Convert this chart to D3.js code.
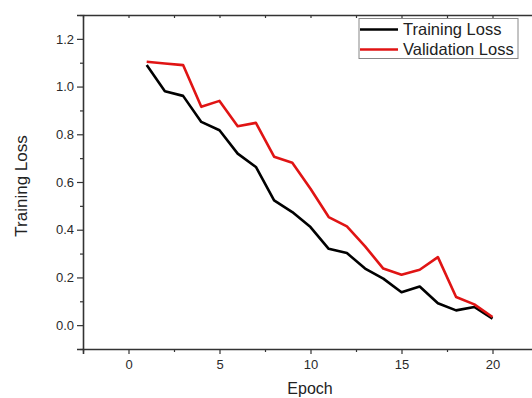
<!DOCTYPE html>
<html><head><meta charset="utf-8">
<script src="https://cdn.jsdelivr.net/npm/d3@7"></script>
<style>body{margin:0;background:#fff;overflow:hidden}svg{display:block}</style>
</head><body>
<svg id="c" width="532" height="398"></svg>
<script>
const epochs = [1,2,3,4,5,6,7,8,9,10,11,12,13,14,15,16,17,18,19,20];
const trainingLoss = [1.09,0.98,0.961,0.852,0.817,0.719,0.663,0.523,0.474,0.411,0.32,0.302,0.237,0.195,0.138,0.162,0.092,0.062,0.076,0.027];
const validationLoss = [1.104,1.097,1.09,0.915,0.94,0.834,0.848,0.706,0.681,0.572,0.453,0.414,0.33,0.237,0.211,0.232,0.285,0.118,0.087,0.034];
const xTicks = [0,5,10,15,20];
const yTicks = [0.0,0.2,0.4,0.6,0.8,1.0,1.2];
const seriesNames = ["Training Loss","Validation Loss"];
const seriesColors = ["#000000","#e01414"];

const svg = d3.select("#c");
const L = 83, T = 15, B = 349;
const x = d3.scaleLinear().domain([-2.5, 22.5]).range([L, L + 18.2*25]);
const y = d3.scaleLinear().domain([-0.1, 1.3]).range([B, T]);
const axisColor = "#333";
const font = "Liberation Sans, Arial, sans-serif";

// lines
const line = d3.line().x((d,i)=>x(epochs[i])).y(d=>y(d));
[trainingLoss, validationLoss].forEach((s,k)=>{
  svg.append("path").datum(s).attr("d", line).attr("fill","none")
    .attr("stroke", seriesColors[k]).attr("stroke-width", 2.6).attr("stroke-linejoin","round");
});

// Left axis
svg.append("g").attr("transform",`translate(${L},0)`)
  .call(d3.axisLeft(y).tickValues(yTicks).tickFormat(d3.format(".1f")).tickSize(6).tickPadding(3));
svg.append("g").attr("transform",`translate(${L},0)`)
  .call(d3.axisLeft(y).tickValues(d3.range(-0.1,1.31,0.2).map(v=>+v.toFixed(1))).tickFormat("").tickSize(3))
  .call(g=>g.select(".domain").remove());
// Bottom axis
svg.append("g").attr("transform",`translate(0,${B})`)
  .call(d3.axisBottom(x).tickValues(xTicks).tickSize(5).tickPadding(6));
svg.append("g").attr("transform",`translate(0,${B})`)
  .call(d3.axisBottom(x).tickValues([-2.5,2.5,7.5,12.5,17.5,22.5]).tickFormat("").tickSize(3))
  .call(g=>g.select(".domain").remove());
// Top axis (inward ticks)
svg.append("g").attr("transform",`translate(0,${T})`)
  .call(d3.axisTop(x).tickValues(d3.range(-2.5,22.6,2.5)).tickFormat("").tickSize(-3).tickSizeOuter(0));

svg.selectAll(".domain").attr("stroke",axisColor).attr("stroke-width",1.6);
svg.selectAll(".tick line").attr("stroke",axisColor).attr("stroke-width",1.2);
svg.selectAll(".tick text").attr("fill","#2a2a2a").style("font-family",font).style("font-size","13px");

// Axis titles
svg.append("text").attr("transform","translate(26.5,186) rotate(-90)").attr("text-anchor","middle")
  .style("font-family",font).style("font-size","17px").attr("fill","#222").text("Training Loss");
svg.append("text").attr("x",310).attr("y",393.5).attr("text-anchor","middle")
  .style("font-family",font).style("font-size","16px").attr("fill","#222").text("Epoch");

// Legend
const lg = svg.append("g");
lg.append("rect").attr("x",359).attr("y",18.5).attr("width",159).attr("height",40)
  .attr("fill","#fff").attr("stroke","#888").attr("stroke-width",1);
seriesNames.forEach((n,k)=>{
  const yy = 29.5 + k*20;
  lg.append("line").attr("x1",360).attr("x2",398).attr("y1",yy).attr("y2",yy)
    .attr("stroke",seriesColors[k]).attr("stroke-width",2.6);
  lg.append("text").attr("x",403).attr("y",yy+5.5).style("font-family",font).style("font-size","16.5px")
    .attr("fill","#222").text(n);
});
</script>
</body></html>
